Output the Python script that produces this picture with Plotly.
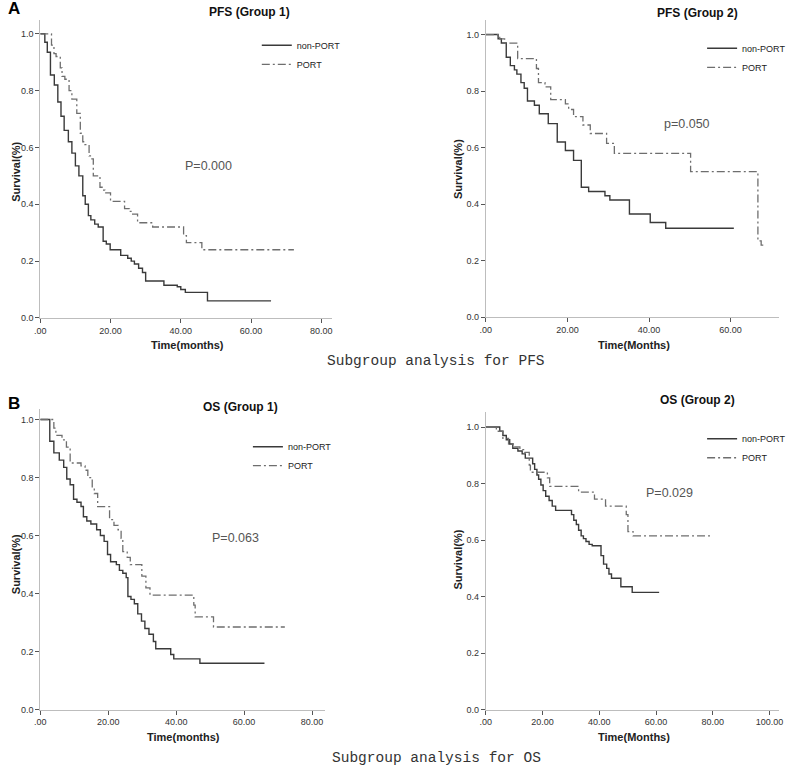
import plotly.graph_objects as go

# ---------------- data (step points: time in months, survival proportion) -------------
pfs1_nonport_t = [0, 1.3, 2.0, 2.9, 4.0, 5.0, 5.9, 6.8, 8.0, 9.0, 10.0, 11.0, 12.1, 12.8, 13.7, 14.4,
                  15.5, 16.5, 17.9, 18.8, 19.9, 22.9, 24.9, 25.9, 26.8, 28.0, 29.1, 30.0, 35.2, 39.0,
                  40.0, 41.3, 47.6, 65.7]
pfs1_nonport_s = [1.0, 0.97, 0.935, 0.855, 0.82, 0.76, 0.71, 0.66, 0.62, 0.58, 0.535, 0.50, 0.43, 0.40,
                  0.36, 0.345, 0.33, 0.32, 0.27, 0.26, 0.24, 0.22, 0.21, 0.20, 0.19, 0.175, 0.16, 0.13,
                  0.115, 0.11, 0.10, 0.09, 0.06, 0.06]
pfs1_port_t = [0, 3.2, 3.9, 4.5, 5.7, 6.2, 7.0, 8.2, 9.0, 10.4, 11.4, 12.1, 12.7, 13.9, 14.5, 15.1, 17.0,
               17.6, 18.4, 20.0, 24.0, 25.4, 26.3, 27.7, 32.0, 40.8, 41.6, 46.0, 72.2]
pfs1_port_s = [1.0, 0.96, 0.93, 0.92, 0.88, 0.85, 0.84, 0.80, 0.77, 0.72, 0.65, 0.62, 0.61, 0.57, 0.56,
               0.50, 0.46, 0.45, 0.44, 0.41, 0.385, 0.375, 0.365, 0.335, 0.32, 0.29, 0.265, 0.24, 0.24]

pfs2_nonport_t = [0, 3.0, 3.8, 5.0, 6.0, 7.0, 7.6, 8.6, 9.4, 10.2, 11.9, 13.1, 15.3, 17.5, 19.5, 21.5,
                  23.4, 25.2, 29.2, 30.4, 35.2, 40.3, 44.1, 60.8]
pfs2_nonport_s = [1.0, 0.985, 0.97, 0.92, 0.89, 0.875, 0.86, 0.83, 0.81, 0.765, 0.75, 0.72, 0.685, 0.62,
                  0.59, 0.555, 0.46, 0.445, 0.43, 0.415, 0.365, 0.335, 0.315, 0.315]
pfs2_port_t = [0, 3.4, 4.6, 7.8, 12.4, 12.9, 14.5, 15.9, 19.5, 20.3, 21.5, 23.8, 25.6, 29.6, 31.5, 50.2,
               66.7, 67.5, 68.5]
pfs2_port_s = [1.0, 0.985, 0.97, 0.915, 0.88, 0.83, 0.815, 0.77, 0.755, 0.735, 0.71, 0.68, 0.65, 0.615,
               0.58, 0.515, 0.27, 0.255, 0.255]

os1_nonport_t = [0, 2.8, 4.0, 5.6, 6.9, 7.8, 8.8, 9.8, 10.8, 12.0, 12.7, 13.7, 14.9, 16.6, 17.7, 18.8,
                 19.8, 20.7, 22.4, 23.3, 24.3, 25.3, 25.8, 26.7, 27.7, 28.7, 29.8, 30.8, 32.0, 33.3, 34.0,
                 38.4, 39.3, 47.0, 66.0]
os1_nonport_s = [1.0, 0.925, 0.885, 0.86, 0.835, 0.795, 0.775, 0.725, 0.715, 0.70, 0.665, 0.65, 0.64,
                 0.62, 0.60, 0.58, 0.535, 0.51, 0.50, 0.48, 0.47, 0.455, 0.39, 0.38, 0.365, 0.33, 0.305,
                 0.28, 0.26, 0.235, 0.21, 0.19, 0.175, 0.16, 0.16]
os1_port_t = [0, 4.0, 4.6, 6.4, 7.7, 8.8, 12.0, 13.2, 14.0, 15.3, 15.9, 16.9, 20.4, 21.7, 22.9, 23.8, 24.3,
              25.6, 26.5, 29.9, 31.1, 32.3, 45.2, 45.6, 51.0, 72.0]
os1_port_s = [1.0, 0.97, 0.945, 0.93, 0.905, 0.85, 0.84, 0.825, 0.80, 0.76, 0.745, 0.70, 0.655, 0.635,
              0.62, 0.59, 0.545, 0.525, 0.50, 0.46, 0.42, 0.395, 0.36, 0.32, 0.285, 0.285]

os2_nonport_t = [0, 4.9, 6.0, 7.2, 8.4, 9.5, 11.3, 12.8, 13.9, 16.5, 17.2, 18.0, 18.6, 19.4, 20.2, 21.1,
                 22.3, 23.4, 24.6, 30.2, 31.0, 31.9, 32.7, 33.6, 34.4, 35.3, 36.4, 37.5, 40.6, 41.5,
                 42.6, 43.4, 44.3, 47.6, 51.6, 61.1]
os2_nonport_s = [1.0, 0.985, 0.97, 0.955, 0.94, 0.925, 0.915, 0.905, 0.89, 0.87, 0.85, 0.83, 0.815,
                 0.795, 0.775, 0.755, 0.74, 0.72, 0.705, 0.69, 0.67, 0.655, 0.635, 0.615, 0.605, 0.595,
                 0.585, 0.58, 0.545, 0.515, 0.50, 0.48, 0.465, 0.435, 0.415, 0.415]
os2_port_t = [0, 3.7, 6.0, 8.0, 10.0, 12.0, 13.6, 15.3, 15.7, 21.7, 22.5, 32.7, 38.3, 42.2, 49.5, 50.1,
              51.9, 79.1]
os2_port_s = [1.0, 0.985, 0.96, 0.94, 0.93, 0.92, 0.91, 0.865, 0.84, 0.82, 0.79, 0.77, 0.745, 0.72,
              0.69, 0.63, 0.615, 0.615]

panel_titles = ["PFS (Group 1)", "PFS (Group 2)", "OS (Group 1)", "OS (Group 2)"]
p_values = ["P=0.000", "p=0.050", "P=0.063", "P=0.029"]
x_titles = ["Time(months)", "Time(Months)", "Time(months)", "Time(Months)"]
y_title = "Survival(%)"
series_names = ["non-PORT", "PORT"]
x_ticks = [[0, 20, 40, 60, 80], [0, 20, 40, 60], [0, 20, 40, 60, 80], [0, 20, 40, 60, 80, 100]]
y_ticks = [0.0, 0.2, 0.4, 0.6, 0.8, 1.0]
captions = ["Subgroup analysis for PFS", "Subgroup analysis for OS"]
panel_letters = ["A", "B"]

# ---------------- layout helpers ----------------
W, H = 792, 774
def px(x):
    return x / W
def py(y):
    return 1 - y / H

FONT = "Liberation Sans, Arial, sans-serif"

panels = [
    dict(data=[(pfs1_nonport_t, pfs1_nonport_s), (pfs1_port_t, pfs1_port_s)],
         xdom=(34.7, 330), ydom=(320, 20), xr=83.0, yr=1.049),
    dict(data=[(pfs2_nonport_t, pfs2_nonport_s), (pfs2_port_t, pfs2_port_s)],
         xdom=(486, 783), ydom=(319.3, 20), xr=71.9, yr=1.052),
    dict(data=[(os1_nonport_t, os1_nonport_s), (os1_port_t, os1_port_s)],
         xdom=(34.7, 323), ydom=(714.3, 411.7), xr=83.8, yr=1.036),
    dict(data=[(os2_nonport_t, os2_nonport_s), (os2_port_t, os2_port_s)],
         xdom=(486, 783), ydom=(714.3, 415), xr=103.4, yr=1.052),
]

legend_pos = [(254, 31), (705, 34), (245, 435), (705, 427)]
title_pos = [(247, 12), (700, 13), (238, 410), (700, 403)]
p_pos = [(205, 167), (690, 125), (232, 542), (672, 496)]
ytitle_pos = [(10, 173), (458, 170), (10, 568), (458, 563)]
xtitle_pos = [(184, 347), (636, 347), (180, 742), (636, 742)]

fig = go.Figure()
layout = dict(width=W, height=H, margin=dict(l=0, r=0, t=0, b=0),
              paper_bgcolor="white", plot_bgcolor="white", showlegend=True)
annotations = []

line_styles = [dict(color="#3a3a3a", width=1.4),
               dict(color="#6e6e6e", width=1.3, dash="8px,3px,2px,3px")]

def ann(text, x, y, size, color, family=FONT, angle=0):
    return dict(text=text, x=px(x), y=py(y), xref="paper", yref="paper", showarrow=False,
                xanchor="center", yanchor="middle", textangle=angle,
                font=dict(family=family, size=size, color=color))

for i, p in enumerate(panels):
    k = "" if i == 0 else str(i + 1)
    leg = "legend" if i == 0 else f"legend{i + 1}"
    for j, (t, s) in enumerate(p["data"]):
        fig.add_trace(go.Scatter(x=t, y=s, mode="lines", line_shape="hv",
                                 line=line_styles[j], name=series_names[j],
                                 xaxis="x" + k, yaxis="y" + k, legend=leg,
                                 hoverinfo="skip"))
    axis_common = dict(showline=True, linecolor="#bdbdbd", linewidth=1, ticks="outside",
                       ticklen=4, tickcolor="#555555", tickwidth=1, showgrid=False,
                       zeroline=False, tickfont=dict(family=FONT, size=9, color="#333333"))
    layout["xaxis" + k] = dict(axis_common, domain=[px(p["xdom"][0]), px(p["xdom"][1])],
                               range=[0, p["xr"]], anchor="y" + k,
                               tickvals=x_ticks[i],
                               ticktext=[".00" if v == 0 else f"{v:.2f}" for v in x_ticks[i]])
    layout["yaxis" + k] = dict(axis_common, domain=[py(p["ydom"][0]), py(p["ydom"][1])],
                               range=[0, p["yr"]], anchor="x" + k,
                               tickvals=y_ticks, ticktext=[f"{v:.1f}" for v in y_ticks])
    layout[leg] = dict(x=px(legend_pos[i][0]), y=py(legend_pos[i][1]), xanchor="left",
                       yanchor="top", bgcolor="rgba(0,0,0,0)", itemwidth=30,
                       tracegroupgap=0, font=dict(family=FONT, size=9, color="#222222"))
    annotations.append(ann(f"<b>{panel_titles[i]}</b>", *title_pos[i], 12, "#111111"))
    annotations.append(ann(p_values[i], *p_pos[i], 12.5, "#555555"))
    annotations.append(ann(f"<b>{y_title}</b>", *ytitle_pos[i], 11, "#222222", angle=-90))
    annotations.append(ann(f"<b>{x_titles[i]}</b>", *xtitle_pos[i], 11, "#222222"))

for cap, yy in zip(captions, [363, 763]):
    annotations.append(ann(cap, 436, yy, 14.5, "#333333",
                           family="Liberation Mono, monospace"))
for letter, (lx, ly) in zip(panel_letters, [(8, 9), (8, 406)]):
    annotations.append(ann(f"<b>{letter}</b>", lx, ly, 17, "#000000"))

layout["annotations"] = annotations
fig.update_layout(**layout)
fig.write_html("out.html", config={"displayModeBar": False},
               post_script="document.body.style.margin='0px';")
